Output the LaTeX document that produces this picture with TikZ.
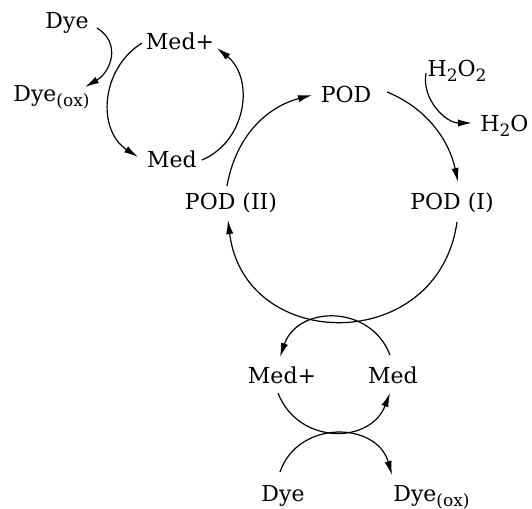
\documentclass[tikz,border=0pt]{standalone}
\usepackage{fontspec}
\setmainfont{DejaVu Serif}
\usetikzlibrary{arrows.meta,calc}
\newcommand{\mysubs}[1]{\raisebox{-0.5ex}{\fontsize{8.5}{10}\selectfont #1}}
\begin{document}
\begin{tikzpicture}[x=0.5pt,y=-0.5pt,
  lbl/.style={inner sep=0pt,font=\fontsize{11}{13}\selectfont},
  conn/.style={line width=0.6pt},
  arr/.style={conn,-{Latex[length=7pt,width=3.6pt]}}]
\useasboundingbox (0,0) rectangle (532,509);
% nodes
\node[lbl,anchor=base] (dyeA) at (67,28) {Dye};
\node[lbl,anchor=base] (medpA) at (180,49) {Med+};
\node[lbl,anchor=base] (medA) at (172,167) {Med};
\node[lbl,anchor=base west] (dyeoxA) at (13,101) {Dye\mysubs{(ox)}};
\node[lbl,anchor=base] (pod) at (346,102) {POD};
\node[lbl,anchor=base] (h2o2) at (457,76) {H\mysubs{2}O\mysubs{2}};
\node[lbl,anchor=base west] (h2o) at (480,131) {H\mysubs{2}O};
\node[lbl,anchor=base] (podI) at (452,209) {POD (I)};
\node[lbl,anchor=base] (podII) at (231,209) {POD (II)};
\node[lbl,anchor=base] (medpB) at (282,383) {Med+};
\node[lbl,anchor=base] (medB) at (393,383) {Med};
\node[lbl,anchor=base] (dyeB) at (283,501) {Dye};
\node[lbl,anchor=base west] (dyeoxB) at (393,501) {Dye\mysubs{(ox)}};
% top-left mediator cycle
\draw[arr] ($(medpA.base)+(-38,-6)$) to[out=212,in=147,looseness=1.1] ($(medA.base)+(-34,-10)$);
\draw[arr] ($(medA.base)+(30,-7)$) to[out=23,in=321,looseness=1.1] ($(medpA.base)+(37,-1)$);
\draw[arr] ($(dyeA.base)+(30,0)$) to[out=328,in=30,looseness=1.25] ($(dyeoxA.base west)+(72,-14)$);
% POD cycle
\draw[arr] ($(podII.base)+(-4,-23)$) to[out=80,in=195,looseness=1] ($(pod.base)+(-34,-7)$);
\draw[arr] ($(pod.base)+(41,-10)$) to[out=338,in=102,looseness=0.95] ($(podI.base)+(6,-27)$);
\draw[arr] ($(h2o2.base)+(-31,-3)$) to[out=260,in=180,looseness=1] ($(h2o.base west)+(-8,-8)$);
\draw[arr] ($(podI.base)+(5,13)$) to[out=262,in=277,looseness=1.5] ($(podII.base)+(-3,11)$);
% bottom mediator cycle
\draw[arr] ($(medB.base)+(-3,-28)$) to[out=111,in=71,looseness=1.27] ($(medpB.base)+(-2,-26)$);
\draw[arr] ($(medpB.base)+(-4,10)$) to[out=291,in=249,looseness=1.27] ($(medB.base)+(-3,10)$);
\draw[arr] ($(dyeB.base)+(-3,-29)$) to[out=71,in=106,looseness=1.27] ($(dyeoxB.base west)+(-1,-26)$);
\end{tikzpicture}
\end{document}
